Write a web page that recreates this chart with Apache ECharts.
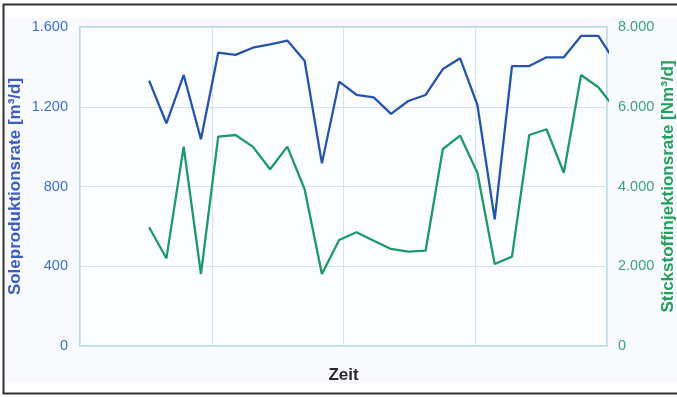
<!DOCTYPE html>
<html>
<head>
<meta charset="utf-8">
<script src="https://cdn.jsdelivr.net/npm/echarts@6/dist/echarts.min.js"></script>
<style>
  html, body { margin: 0; padding: 0; background: #ffffff; }
  #chart { width: 677px; height: 397px; }
</style>
</head>
<body>
<div id="chart"></div>
<script>
// Day index of each daily measurement
const days = [4, 5, 6, 7, 8, 9, 10, 11, 12, 13, 14, 15, 16, 17, 18, 19, 20, 21, 22, 23, 24, 25, 26, 27, 28, 29, 30, 31];

// Brine production rate [m³/d]
const soleproduktion = [1331, 1117, 1359, 1037, 1471, 1460, 1496, 1513, 1532, 1431, 916, 1326, 1260, 1247, 1164, 1229, 1259, 1389, 1443, 1209, 635, 1404, 1404, 1448, 1448, 1555, 1555, 1421];

// Nitrogen injection rate [Nm³/d]
const stickstoff = [2977, 2199, 4999, 1806, 5250, 5292, 4999, 4432, 4999, 3930, 1806, 2658, 2851, 2641, 2433, 2365, 2390, 4941, 5274, 4346, 2057, 2240, 5292, 5435, 4346, 6797, 6488, 5936];

// Tick values of both value axes
const leftTicks = [0, 400, 800, 1200, 1600];
const rightTicks = [0, 2000, 4000, 6000, 8000];

const fmt = v => String(v).replace(/\B(?=(\d{3})+(?!\d))/g, '.');

const chart = echarts.init(document.getElementById('chart'), null, { renderer: 'canvas' });

const gridColor = '#d3e3ee';
const frameColor = '#a8cbdf';

chart.setOption({
  backgroundColor: '#ffffff',
  animation: false,
  textStyle: { fontFamily: 'Liberation Sans, Arial, sans-serif' },
  graphic: [
    {
      type: 'rect', z: -10, silent: true,
      shape: { x: 5, y: 18, width: 672, height: 365 },
      style: { fill: '#f9fafd' }
    },
    {
      type: 'rect', z: 100, silent: true,
      shape: { x: 3.5, y: 4.5, width: 690, height: 389 },
      style: { fill: 'none', stroke: '#333333', lineWidth: 2 }
    }
  ],
  grid: {
    left: 80, right: 70, top: 27, bottom: 51,
    containLabel: false,
    outerBoundsMode: 'none',
    show: true, backgroundColor: '#fcfdfe', borderColor: frameColor, borderWidth: 1.5
  },
  xAxis: {
    type: 'value',
    min: 0, max: 30.5, interval: 7.625,
    name: 'Zeit',
    nameLocation: 'middle',
    nameGap: 21,
    nameMoveOverlap: false,
    nameTextStyle: { fontSize: 17, fontWeight: 'bold', color: '#2a2a2a' },
    axisLine: { show: false },
    axisTick: { show: false },
    axisLabel: { show: false },
    splitLine: { show: true, lineStyle: { color: gridColor, width: 1 } }
  },
  yAxis: [
    {
      type: 'value',
      min: leftTicks[0], max: leftTicks[leftTicks.length - 1], interval: leftTicks[1] - leftTicks[0],
      position: 'left',
      name: 'Soleproduktionsrate [m³/d]',
      nameLocation: 'middle',
      nameGap: 56,
      nameMoveOverlap: false,
      nameTextStyle: { fontSize: 17, fontWeight: 'bold', color: '#3a5cc6' },
      axisLine: { show: false },
      axisTick: { show: false },
      axisLabel: { margin: 12, fontSize: 14.5, color: '#3e72cf', formatter: fmt },
      splitLine: { show: true, lineStyle: { color: gridColor, width: 1 } }
    },
    {
      type: 'value',
      min: rightTicks[0], max: rightTicks[rightTicks.length - 1], interval: rightTicks[1] - rightTicks[0],
      position: 'right',
      name: 'Stickstoffinjektionsrate [Nm³/d]',
      nameLocation: 'middle',
      nameGap: 53,
      nameRotate: 90,
      nameMoveOverlap: false,
      nameTextStyle: { fontSize: 17, fontWeight: 'bold', color: '#22a15c' },
      axisLine: { show: false },
      axisTick: { show: false },
      axisLabel: { margin: 11, fontSize: 14.5, color: '#3aa67c', formatter: fmt },
      splitLine: { show: false }
    }
  ],
  series: [
    {
      name: 'Soleproduktionsrate',
      type: 'line',
      yAxisIndex: 0,
      data: days.map((d, i) => [d, soleproduktion[i]]),
      showSymbol: false,
      clip: true,
      lineStyle: { color: '#2654b0', width: 2.3 },
      itemStyle: { color: '#2654b0' },
      z: 3
    },
    {
      name: 'Stickstoffinjektionsrate',
      type: 'line',
      yAxisIndex: 1,
      data: days.map((d, i) => [d, stickstoff[i]]),
      showSymbol: false,
      clip: true,
      lineStyle: { color: '#1c9a6b', width: 2.3 },
      itemStyle: { color: '#1c9a6b' },
      z: 2
    }
  ]
});
</script>
</body>
</html>
